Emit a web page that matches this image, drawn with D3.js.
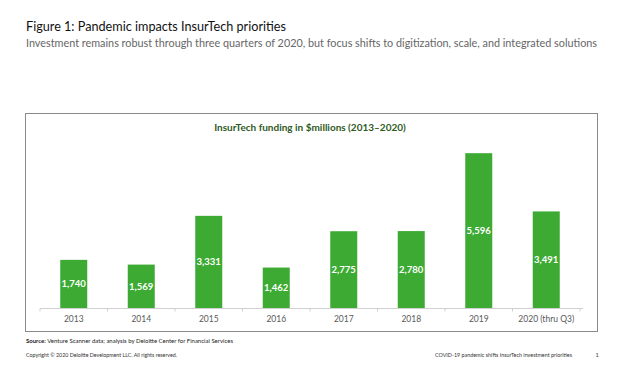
<!DOCTYPE html>
<html><head><meta charset="utf-8">
<script src="https://cdn.jsdelivr.net/npm/d3@7"></script>
<style>body{margin:0;background:#fff;}svg{display:block;font-family:Lato,"Open Sans",sans-serif;}</style>
</head><body>
<svg id="c" width="620" height="372"></svg>
<script>
const categories = ["2013","2014","2015","2016","2017","2018","2019","2020 (thru Q3)"];
const funding = [1740,1569,3331,1462,2775,2780,5596,3491];
const yDomain = [0, 6000];

const svg = d3.select("#c");
function fit(t, len){ t.attr("textLength",len).attr("lengthAdjust","spacingAndGlyphs"); return t; }

fit(svg.append("text").attr("x",26).attr("y",30.5).attr("font-size",14).attr("fill","#111")
  .text("Figure 1: Pandemic impacts InsurTech priorities"), 260);
fit(svg.append("text").attr("x",26).attr("y",46.5).attr("font-size",10.8).attr("fill","#666")
  .text("Investment remains robust through three quarters of 2020, but focus shifts to digitization, scale, and integrated solutions"), 571);

svg.append("rect").attr("x",25.5).attr("y",113.5).attr("width",572).attr("height",218)
  .attr("fill","none").attr("stroke","#8a8a8a").attr("stroke-width",1);
svg.append("text").attr("x",310).attr("y",131).attr("text-anchor","middle").attr("font-size",10)
  .attr("font-weight","bold").attr("fill","#2f5a1e").text("InsurTech funding in $millions (2013\u20132020)");

const x = d3.scaleBand().domain(categories).range([40,580]).paddingInner(0.6).paddingOuter(0.3);
const y = d3.scaleLinear().domain(yDomain).range([308,142]);

svg.selectAll("rect.bar").data(funding).join("rect").attr("class","bar")
  .attr("x",(d,i)=>x(categories[i])).attr("width",x.bandwidth())
  .attr("y",d=>y(d)).attr("height",d=>y(0)-y(d)).attr("fill","#3dab33");

svg.selectAll("text.val").data(funding).join("text").attr("class","val")
  .attr("x",(d,i)=>x(categories[i])+x.bandwidth()/2)
  .attr("y",d=>(y(d)+y(0))/2+3.5).attr("text-anchor","middle")
  .attr("font-size",9.5).attr("font-weight","bold").attr("fill","#fff")
  .text(d=>d3.format(",")(d));

const ax = svg.append("g").attr("transform","translate(0,308.5)");
ax.append("line").attr("x1",40).attr("x2",583).attr("stroke","#d0d0d0");
const step = x.step();
d3.range(categories.length+1).forEach(i=>{
  const xx = x(categories[0]) - (step - x.bandwidth())/2 + i*step;
  ax.append("line").attr("x1",xx).attr("x2",xx).attr("y1",0).attr("y2",3).attr("stroke","#d0d0d0");
});
ax.selectAll("text").data(categories).join("text")
  .attr("x",d=>x(d)+x.bandwidth()/2).attr("y",13).attr("text-anchor","middle")
  .attr("font-size",8.5).attr("fill","#595959").text(d=>d);

const src = fit(svg.append("text").attr("x",26).attr("y",342.5).attr("font-size",6.3).attr("fill","#222"), 207);
src.append("tspan").attr("font-weight","bold").text("Source: ");
src.append("tspan").text("Venture Scanner data; analysis by Deloitte Center for Financial Services");

fit(svg.append("text").attr("x",26).attr("y",357).attr("font-size",5.6).attr("fill","#333")
  .text("Copyright \u00a9 2020 Deloitte Development LLC. All rights reserved."), 151);
fit(svg.append("text").attr("x",435).attr("y",357).attr("font-size",5.6).attr("fill","#333")
  .text("COVID-19 pandemic shifts InsurTech investment priorities"), 137);
svg.append("text").attr("x",597).attr("y",357).attr("text-anchor","middle").attr("font-size",5.6).attr("fill","#333").text("1");
</script>
</body></html>
